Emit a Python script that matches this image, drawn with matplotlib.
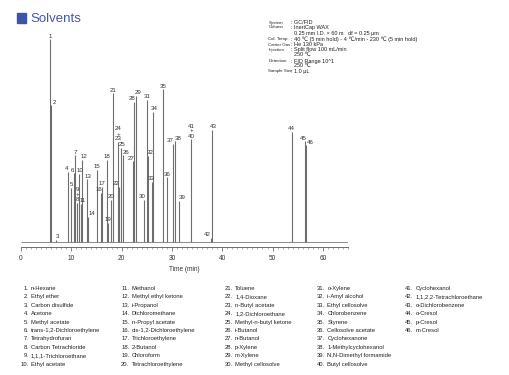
import matplotlib
matplotlib.use("Agg")
import matplotlib.pyplot as plt
from matplotlib.patches import Rectangle

plt.rcParams['font.family'] = ['Liberation Sans', 'DejaVu Sans']

W, H = 509, 375  # figure size in px

# peak table: label, retention time (min), height (arbitrary units)
peak_labels = ["1", "2", "3", "4", "5", "6", "7", "9\n+\n8", "10", "11",
               "12", "13", "14", "15", "16", "17", "18", "19", "20", "21",
               "22", "24\n+\n23", "25", "26", "27", "28", "29", "30", "31", "32",
               "33", "34", "35", "36", "37", "38", "39", "41\n+\n40", "42", "43",
               "44", "45", "46"]
retention = [5.77, 5.92, 6.86, 9.30, 9.84, 10.44, 10.74, 11.19, 11.53, 11.93,
             12.19, 13.06, 13.32, 15.05, 15.84, 16.10, 17.04, 17.24, 17.83, 18.35,
             19.50, 19.30, 19.88, 20.20, 22.33, 22.56, 22.82, 24.45, 24.99, 25.30,
             25.98, 26.30, 28.19, 29.09, 30.16, 30.58, 31.31, 33.80, 37.69, 37.91,
             53.80, 56.46, 56.70]
heights = [203, 137, 2, 70, 54, 69, 87, 39, 68, 38,
           82, 63, 25, 72, 49, 55, 82, 19, 42, 149,
           55, 100, 94, 87, 81, 140, 146, 42, 142, 86,
           60, 130, 153, 65, 98, 101, 41, 103, 4, 112,
           110, 101, 97]

# horizontal nudges of peak labels (min)
label_dx = {"2": 0.65, "3": 0.3, "4": -0.2, "5": 0.15, "6": -0.2, "10": 0.15,
            "11": 0.4, "12": 0.4, "13": 0.3, "14": 0.7, "16": -0.3, "17": 0.1,
            "20": 0.1, "22": -0.5, "24\n+\n23": 0.05, "25": 0.3, "26": 0.65,
            "27": -0.45, "28": -0.4, "29": 0.5, "30": -0.35, "32": 0.4,
            "33": -0.1, "34": 0.2, "37": -0.55, "38": 0.7, "39": 0.75,
            "42": -0.75, "43": 0.3, "45": -0.35, "46": 0.75}

compounds = ["n-Hexane", "Ethyl ether", "Carbon disulfide", "Acetone", "Methyl acetate",
             "trans-1,2-Dichloroethylene", "Tetrahydrofuran", "Carbon Tetrachloride",
             "1,1,1-Trichloroethane", "Ethyl acetate",
             "Methanol", "Methyl ethyl ketone", "i-Propanol", "Dichloromethane",
             "n-Propyl acetate", "cis-1,2-Dichloroethylene", "Trichloroethylene",
             "2-Butanol", "Chloroform", "Tetrachloroethylene",
             "Toluene", "1,4-Dioxane", "n-Butyl acetate", "1,2-Dichloroethane",
             "Methyl-n-butyl ketone", "i-Butanol", "n-Butanol", "p-Xylene",
             "m-Xylene", "Methyl cellosolve",
             "o-Xylene", "i-Amyl alcohol", "Ethyl cellosolve", "Chlorobenzene",
             "Styrene", "Cellosolve acetate", "Cyclohexanone", "1-Methylcyclohexanol",
             "N,N-Dimethyl formamide", "Butyl cellosolve",
             "Cyclohexanol", "1,1,2,2-Tetrachloroethane", "o-Dichlorobenzene",
             "o-Cresol", "p-Cresol", "m-Cresol"]

cond_names = ["System", "Column", "", "Col. Temp.", "Carrier Gas", "Injection", "",
              "Detection", "", "Sample Size"]
cond_values = [": GC/FID", ": InertCap WAX", "  0.25 mm I.D. \u00d7 60 m   df = 0.25 \u03bcm",
               ": 40 \u2103 (5 min hold) - 4 \u2103/min - 230 \u2103 (5 min hold)",
               ": He 130 kPa", ": Split flow 100 mL/min", "  250 \u2103",
               ": FID Range 10^1", "  250 \u2103", ": 1.0 \u03bcL"]


def fx(x):
    return x / W


def fy(y):
    return 1 - y / H


fig = plt.figure(figsize=(W / 100, H / 100), dpi=100)

# chromatogram axes: x 0..65 min, baseline at y=0
ax = fig.add_axes([fx(21), fy(247), 327 / W, 217 / H])
ax.set_xlim(0, 65)
ax.set_ylim(-5, 212)
ax.hlines(0, 0, 65, color="#8a8a8a", lw=0.7)
ax.vlines(retention, 0, heights, color="#6e6e6e", lw=0.8)
for lab, t, h in zip(peak_labels, retention, heights):
    ax.text(t + label_dx.get(lab, 0), h + 1.5, lab, ha="center", va="baseline",
            fontsize=4.4, color="#333333", linespacing=1.0)

for s in ["top", "right", "left"]:
    ax.spines[s].set_visible(False)
ax.spines["bottom"].set_color("#555555")
ax.spines["bottom"].set_linewidth(0.6)
ax.set_yticks([])
ax.set_xticks(range(0, 61, 10))
ax.set_xticks(range(0, 66), minor=True)
ax.tick_params(axis="x", which="major", length=2.6, width=0.5, color="#555555",
               labelsize=4.7, pad=3.5, labelcolor="#333333")
ax.tick_params(axis="x", which="minor", length=1.5, width=0.4, color="#777777")
ax.set_xlabel("Time (min)", fontsize=4.7, color="#333333", labelpad=2.5)
ax.patch.set_alpha(0)

# title
fig.patches.append(Rectangle((fx(16.7), fy(23.3)), 9.3 / W, 10 / H,
                             transform=fig.transFigure, color="#3e54a8"))
fig.text(fx(30.5), fy(18.5), "Solvents", fontsize=9.5, color="#4257ad",
         ha="left", va="center")

# analysis conditions
cond_y = [22.7, 27.5, 33.0, 39.3, 44.7, 49.7, 54.9, 61.0, 65.8, 71.3]
for name, val, y in zip(cond_names, cond_values, cond_y):
    if name:
        fig.text(fx(268.5), fy(y), name, fontsize=3.2, color="#222222", va="center")
    fig.text(fx(291), fy(y), val, fontsize=4.0, color="#222222", va="center")

# compound list
num_right = [28.5, 129.3, 232.7, 325.0, 413.3]
for i, name in enumerate(compounds):
    col, row = divmod(i, 10)
    y = 288.3 + row * 8.44
    fig.text(fx(num_right[col]), fy(y), f"{i + 1}.", fontsize=4.2, color="#222222",
             ha="right", va="center")
    fig.text(fx(num_right[col] + 2.4), fy(y), name, fontsize=4.2, color="#222222",
             ha="left", va="center")

fig.savefig("out.png", dpi=100)
